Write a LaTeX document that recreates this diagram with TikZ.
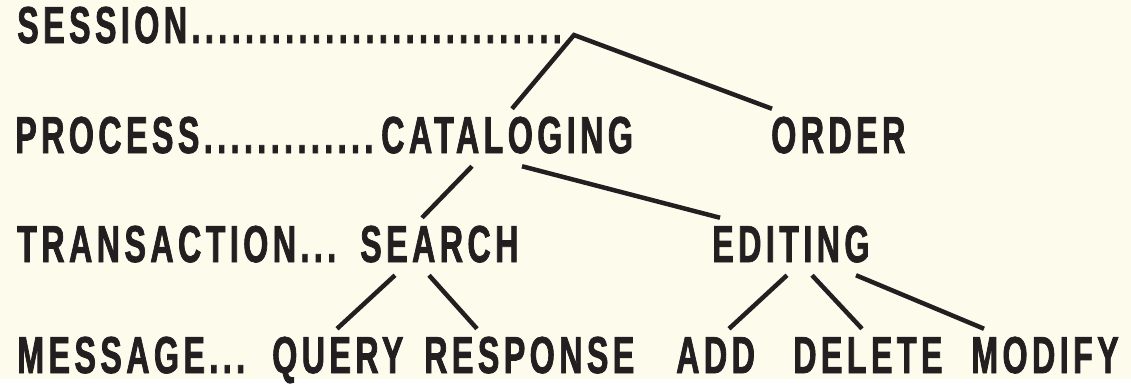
\documentclass[tikz,border=0pt]{standalone}
\usepackage{fontspec}
\setmainfont{Liberation Sans}[FakeStretch=0.62,LetterSpace=8.5,FakeBold=1.4]
\definecolor{paper}{RGB}{252,251,236}
\definecolor{ink}{RGB}{35,31,32}
\begin{document}
\begin{tikzpicture}[x=1pt, y=-1pt, line width=4.5pt, draw=ink,
  lvl/.style={anchor=base west, inner xsep=0pt, inner ysep=11pt, text height=31pt, text depth=0pt, text=ink, font=\fontsize{52}{60}\selectfont\bfseries}]

\fill[paper](0,0) rectangle (1131,379);

\node[lvl] (session) at (15,43) {SESSION............................};
\node[lvl] (process) at (13,153) {PROCESS.............};
\node[lvl] (cataloging) at (379,153) {CATALOGING};
\node[lvl] (order) at (769,153) {ORDER};
\node[lvl] (transaction) at (15,262) {TRANSACTION...};
\node[lvl] (search) at (358,262) {SEARCH};
\node[lvl] (editing) at (710,262) {EDITING};
\node[lvl] (message) at (15,373) {MESSAGE...};
\node[lvl] (query) at (270,373) {QUERY};
\node[lvl] (response) at (422,373) {RESPONSE};
\node[lvl] (add) at (674,373) {ADD};
\node[lvl] (delete) at (791,373) {DELETE};
\node[lvl] (modify) at (969,373) {MODIFY};
\coordinate (apex) at (574,35);

\draw[ink]([xshift=133pt]cataloging.north west)--(apex)--([xshift=3pt]order.north west);
\draw[ink]([xshift=93pt]cataloging.south west)--([xshift=64pt]search.north west);
\draw[ink]([xshift=143pt]cataloging.south west)--([xshift=10pt]editing.north west);
\draw[ink]([xshift=37pt]search.south west)--([xshift=67pt]query.north west);
\draw[ink]([xshift=71pt]search.south west)--([xshift=55pt]response.north west);
\draw[ink]([xshift=77pt]editing.south west)--([xshift=55pt]add.north west);
\draw[ink]([xshift=102pt]editing.south west)--([xshift=71pt]delete.north west);
\draw[ink]([xshift=146pt]editing.south west)--([xshift=15pt]modify.north west);

\end{tikzpicture}
\end{document}
